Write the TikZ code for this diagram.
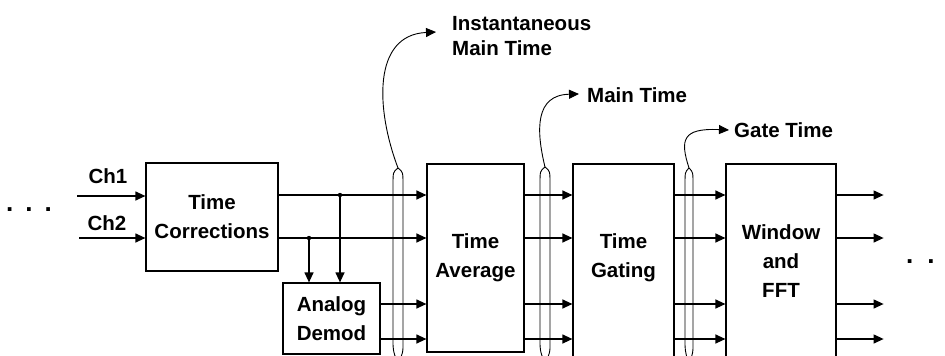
\documentclass[tikz,border=0pt]{standalone}
\usepackage{fontspec}
\setmainfont{Liberation Sans}
\usetikzlibrary{arrows.meta,calc}
\begin{document}
\begin{tikzpicture}[x=1pt,y=-1pt,
  blk/.style={draw,line width=1.2pt,inner sep=0pt,font=\bfseries\fontsize{20.5}{29}\selectfont,align=center},
  txt/.style={inner sep=0pt,font=\bfseries\fontsize{20.5}{25}\selectfont,align=left},
  dots/.style={inner sep=0pt,font=\bfseries\fontsize{26}{26}\selectfont},
  sig/.style={line width=1.2pt,-{Triangle[length=10pt,width=9pt]}},
  bund/.style={line width=0.9pt},
  tap/.style={line width=0.9pt,-{Triangle[length=10pt,width=9pt]}}
]
\useasboundingbox (0,0) rectangle (945,356);
\clip (0,0) rectangle (945,356);
\fill[white] (0,0) rectangle (945,356);
% rows
\coordinate (r1) at (0,195);
\coordinate (r2) at (0,238);
\coordinate (r3) at (0,304);
\coordinate (r4) at (0,339);
% blocks
\node[blk,minimum width=132pt,minimum height=108pt] (tc) at (212,217) {Time\\Corrections};
\node[blk,minimum width=97pt,minimum height=71pt] (ad) at (331.5,318.5) {Analog\\Demod};
\node[blk,minimum width=97pt,minimum height=188pt] (ta) at (475.5,258) {Time\\Average};
\node[blk,minimum width=101pt,minimum height=240pt] (tg) at (623.5,284) {};
\node[blk,draw=none] (tgt) at (623.5,258) {Time\\Gating};
\node[blk,minimum width=110pt,minimum height=240pt] (fft) at (781,284) {};
\node[blk,draw=none] (fftt) at (781,261) {Window\\and\\FFT};
% inputs
\coordinate (in1) at (77,196);
\coordinate (in2) at (79,238);
\node[txt] (ch1) at (108,176) {Ch1};
\node[txt] (ch2) at (107,223) {Ch2};
\draw[sig] (in1) -- (in1 -| tc.west);
\draw[sig] (in2) -- (in2 -| tc.west);
\node[dots,anchor=west] (dl) at (6,210) {.\hspace{12pt}.\hspace{12pt}.};
\node[dots,anchor=west] (dr) at (906,262) {.\hspace{14pt}.};
% TC to TA and taps
\coordinate (j1) at (340,195);
\coordinate (j2) at (309,238);
\draw[sig] (tc.east |- r1) -- (ta.west |- r1);
\draw[sig] (tc.east |- r2) -- (ta.west |- r2);
\fill (j1) circle (2.2pt);
\fill (j2) circle (2.2pt);
\draw[sig] (j1) -- (j1 |- ad.north);
\draw[sig] (j2) -- (j2 |- ad.north);
\draw[sig] (ad.east |- r3) -- (ta.west |- r3);
\draw[sig] (ad.east |- r4) -- (ta.west |- r4);
% TA to TG, TG to FFT, FFT out
\foreach \r in {r1,r2,r3,r4}{
  \draw[sig] (ta.east |- \r) -- (tg.west |- \r);
  \draw[sig] (tg.east |- \r) -- (fft.west |- \r);
  \draw[sig] (fft.east |- \r) -- ($(fft.east |- \r)+(47,0)$);
}
% labels
\node[txt,anchor=west] (inst) at (452,36) {Instantaneous\\Main Time};
\node[txt,anchor=west] (mt) at (587,95) {Main Time};
\node[txt,anchor=west] (gt) at (734,130) {Gate Time};
\coordinate (a1) at (436,32);
\coordinate (a2) at (579,94);
\coordinate (a3) at (729,130);
% bundle loops
\coordinate (b1) at (398,168);
\coordinate (b2) at (545,167);
\coordinate (b3) at (689,168);
\draw[bund] (b1) .. controls (393,172) .. (393,185) -- (393,340) .. controls (393,350) .. (397,362);
\draw[bund] (b1) .. controls (403,172) .. (403,185) -- (403,345) .. controls (403,352) .. (399,362);
\draw[bund] (b2) .. controls (540,171) .. (540,184) -- (540,340) .. controls (540,350) .. (544,362);
\draw[bund] (b2) .. controls (550,171) .. (550,184) -- (550,345) .. controls (550,352) .. (546,362);
\draw[bund] (b3) .. controls (685,172) .. (685,185) -- (685,340) .. controls (685,350) .. (688,362);
\draw[bund] (b3) .. controls (693,172) .. (693,185) -- (693,345) .. controls (693,352) .. (690,362);
% taps to labels
\draw[tap] (b1) .. controls (376,110) and (372,35) .. (a1);
\draw[tap] (b2) .. controls (536,130) and (535,95) .. (a2);
\draw[tap] (b3) .. controls (680,140) and (682,128) .. (a3);
\end{tikzpicture}
\end{document}
